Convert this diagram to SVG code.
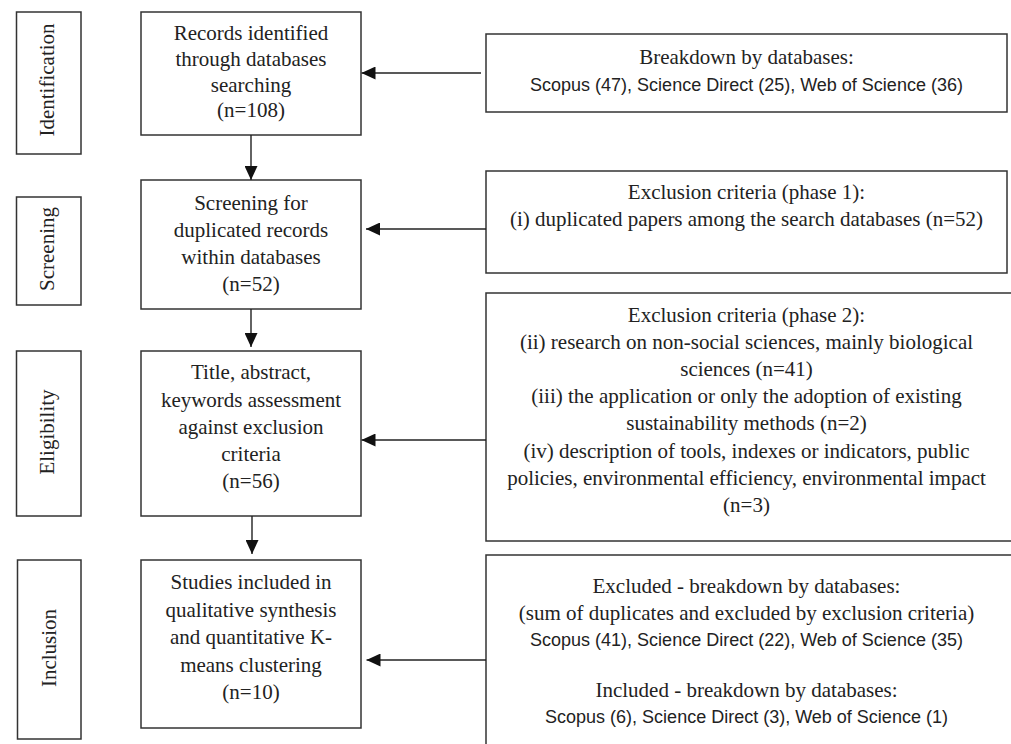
<svg xmlns="http://www.w3.org/2000/svg" width="1011" height="744" viewBox="0 0 1011 744">
<defs>
<style>
.box{fill:#fff;stroke:#333;stroke-width:1.5}
.t{font-family:"Liberation Serif","Times New Roman",serif;font-size:21px;fill:#222;text-anchor:middle}
.s{font-family:"Liberation Sans",Arial,sans-serif;font-size:18px;fill:#222;text-anchor:middle}
.lbl{font-family:"Liberation Serif","Times New Roman",serif;font-size:21px;fill:#222;text-anchor:middle}
.ar{stroke:#222;stroke-width:1.4;fill:none;marker-end:url(#ah)}
</style>
<marker id="ah" viewBox="0 0 14 13" refX="14" refY="6.5" markerWidth="14" markerHeight="13" markerUnits="userSpaceOnUse" orient="auto">
<path d="M0,0 L14,6.5 L0,13 z" fill="#111"/>
</marker>
</defs>
<rect width="1011" height="744" fill="#fff"/>

<g id="stage-identification">
<rect class="box" x="16.5" y="12" width="64.5" height="142"/>
<text class="lbl" transform="translate(54,80) rotate(-90)">Identification</text>
</g>
<g id="stage-screening">
<rect class="box" x="16.5" y="197" width="64.5" height="108"/>
<text class="lbl" transform="translate(54,249) rotate(-90)">Screening</text>
</g>
<g id="stage-eligibility">
<rect class="box" x="16.5" y="351" width="64.5" height="165"/>
<text class="lbl" transform="translate(54,432) rotate(-90)">Eligibility</text>
</g>
<g id="stage-inclusion">
<rect class="box" x="17.5" y="560" width="63.5" height="179"/>
<text class="lbl" transform="translate(56,648) rotate(-90)">Inclusion</text>
</g>

<g id="records">
<rect class="box" x="141" y="12" width="220" height="123"/>
<text class="t" x="251" y="40">Records identified</text>
<text class="t" x="251" y="66">through databases</text>
<text class="t" x="251" y="92">searching</text>
<text class="t" x="251" y="117">(n=108)</text>
</g>
<g id="screening">
<rect class="box" x="141" y="180" width="220" height="129"/>
<text class="t" x="251" y="210">Screening for</text>
<text class="t" x="251" y="237">duplicated records</text>
<text class="t" x="251" y="264">within databases</text>
<text class="t" x="251" y="291">(n=52)</text>
</g>
<g id="eligibility">
<rect class="box" x="141" y="351" width="220" height="165"/>
<text class="t" x="251" y="379">Title, abstract,</text>
<text class="t" x="251" y="406.5">keywords assessment</text>
<text class="t" x="251" y="434">against exclusion</text>
<text class="t" x="251" y="461">criteria</text>
<text class="t" x="251" y="488">(n=56)</text>
</g>
<g id="included">
<rect class="box" x="141" y="560" width="220" height="168"/>
<text class="t" x="251" y="589">Studies included in</text>
<text class="t" x="251" y="617">qualitative synthesis</text>
<text class="t" x="251" y="644">and quantitative K-</text>
<text class="t" x="251" y="672">means clustering</text>
<text class="t" x="251" y="699">(n=10)</text>
</g>

<g id="breakdown">
<rect class="box" x="486" y="34" width="521" height="78"/>
<text class="t" x="746.5" y="64">Breakdown by databases:</text>
<text class="s" x="746.5" y="91">Scopus (47), Science Direct (25), Web of Science (36)</text>
</g>
<g id="exclusion-1">
<rect class="box" x="486" y="171" width="521" height="102"/>
<text class="t" x="746.5" y="198.5">Exclusion criteria (phase 1):</text>
<text class="t" x="746.5" y="226">(i) duplicated papers among the search databases (n=52)</text>
</g>
<g id="exclusion-2">
<rect class="box" x="486" y="293" width="540" height="248"/>
<text class="t" x="746.5" y="322">Exclusion criteria (phase 2):</text>
<text class="t" x="746.5" y="349.1">(ii) research on non-social sciences, mainly biological</text>
<text class="t" x="746.5" y="376.2">sciences (n=41)</text>
<text class="t" x="746.5" y="403.3">(iii) the application or only the adoption of existing</text>
<text class="t" x="746.5" y="430.4">sustainability methods (n=2)</text>
<text class="t" x="746.5" y="457.5">(iv) description of tools, indexes or indicators, public</text>
<text class="t" x="746.5" y="484.6">policies, environmental efficiency, environmental impact</text>
<text class="t" x="746.5" y="511.7">(n=3)</text>
</g>
<g id="summary">
<rect class="box" x="486" y="555" width="540" height="210"/>
<text class="t" x="746.5" y="593">Excluded - breakdown by databases:</text>
<text class="t" x="746.5" y="620">(sum of duplicates and excluded by exclusion criteria)</text>
<text class="s" x="746.5" y="646">Scopus (41), Science Direct (22), Web of Science (35)</text>
<text class="t" x="746.5" y="697">Included - breakdown by databases:</text>
<text class="s" x="746.5" y="723">Scopus (6), Science Direct (3), Web of Science (1)</text>
</g>

<g id="connectors">
<line class="ar" x1="251" y1="135" x2="251" y2="180"/>
<line class="ar" x1="251" y1="309" x2="251" y2="347"/>
<line class="ar" x1="252" y1="516" x2="252" y2="554"/>
<line class="ar" x1="481" y1="73" x2="361.5" y2="73"/>
<line class="ar" x1="486" y1="229" x2="366" y2="229"/>
<line class="ar" x1="486" y1="440" x2="361.5" y2="440"/>
<line class="ar" x1="486" y1="660" x2="366.5" y2="660"/>
</g>
</svg>
